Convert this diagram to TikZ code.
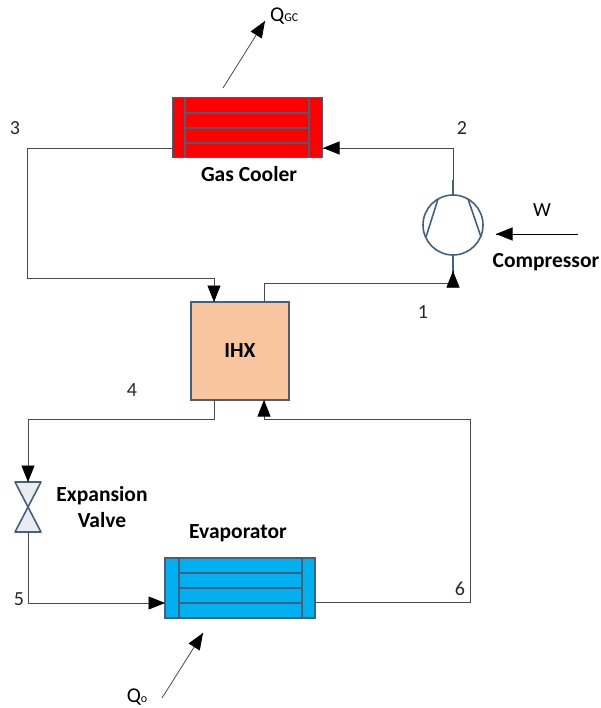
\documentclass[tikz,border=0pt]{standalone}
\usepackage{fontspec}
\setmainfont{Carlito}
\usetikzlibrary{arrows.meta}
\usetikzlibrary{decorations.markings}
\usetikzlibrary{positioning}
\definecolor{edgeblue}{HTML}{44607F}
\definecolor{pipegray}{HTML}{4A4A4A}
\definecolor{coolerred}{HTML}{FF0000}
\definecolor{evapblue}{HTML}{00B0F0}
\definecolor{ihxpeach}{HTML}{F8C59F}
\definecolor{valvegray}{HTML}{E9ECF0}
\tikzset{->/.style = {decoration={markings,
                                  mark=at position 1 with {\arrow[black]{Triangle[length=16.5pt,width=13pt]}}},
                      postaction={decorate}}}
\tikzset{pipe/.style = {draw=pipegray, line width = 0.9pt}}
\tikzset{heat/.style = {draw=pipegray, line width = 0.8pt}}
\tikzset{hxbox/.style = {draw=edgeblue, line width = 1.8pt, rectangle, inner sep = 0, minimum height = 60, minimum width = 150}}
\tikzset{hxline/.style = {draw=edgeblue, line width = 1.8pt}}
\tikzset{partline/.style = {draw=edgeblue, line width = 1.6pt, line join = round}}
\tikzset{num/.style = {font=\fontsize{20}{20}\selectfont, text=black!85}}
\tikzset{partname/.style = {font=\fontsize{21.5}{26}\selectfont\bfseries, align=center}}
\begin{document}
\begin{tikzpicture}[x=1pt, y=-1pt]
      \useasboundingbox (0, 0) rectangle (600, 708);
      % exchangers and IHX
      \node [hxbox, fill=coolerred] (cooler) at (247.5, 127.5) {};
      \node [hxbox, fill=evapblue] (evap) at (240, 588) {};
      \node [draw=edgeblue, line width=1.2pt, fill=ihxpeach, inner sep=0, minimum width=98, minimum height=98] (ihx) at (240, 351) {\fontsize{21.5}{22}\selectfont\bfseries IHX};
      \foreach \y in {113, 128, 143} \draw [hxline] (185, \y) -- (309, \y);
      \foreach \x in {185, 309} \draw [hxline] (\x, 97.5) -- (\x, 157.5);
      \foreach \y in {573, 588, 603} \draw [hxline] (179, \y) -- (302, \y);
      \foreach \x in {179, 302} \draw [hxline] (\x, 558) -- (\x, 618);
      % compressor
      \node [circle, draw=edgeblue, line width=1.6pt, inner sep=0, minimum size=60] (comp) at (453, 225) {};
      \draw [partline] (438, 199) -- (426, 237);
      \draw [partline] (468, 199) -- (481, 237);
      % valve
      \coordinate (valvetop) at (28, 482);
      \coordinate (valvemid) at (28, 507);
      \coordinate (valvebot) at (28, 532);
      \draw [partline, fill=valvegray] (15, 482) -- (41, 482) -- (valvemid) -- (15, 532) -- (41, 532) -- (valvemid) -- cycle;
      % bends of the pipes
      \coordinate (gcout) at (172, 148);
      \coordinate (gcin) at (323, 148);
      \coordinate (three) at (27, 148);
      \coordinate (threeb) at (27, 278);
      \coordinate (ihxa) at (214, 278);
      \coordinate (ihxain) at (214, 302);
      \coordinate (ihxaout) at (214, 400);
      \coordinate (four) at (214, 419);
      \coordinate (fourb) at (28, 419);
      \coordinate (ihxbout) at (264, 302);
      \coordinate (ihxbin) at (264, 400);
      \coordinate (one) at (264, 283);
      \coordinate (oneb) at (453, 283);
      \coordinate (two) at (453, 148);
      \coordinate (twob) at (453, 180);
      \coordinate (compbase) at (453, 287);
      \coordinate (compin) at (453, 271);
      \coordinate (five) at (28, 603);
      \coordinate (evapin) at (165, 603);
      \coordinate (evapout) at (315, 602);
      \coordinate (six) at (470, 602);
      \coordinate (sixb) at (470, 419);
      \coordinate (sixc) at (264, 419);
      \draw [pipe, ->] (gcout) -- (three) -- (threeb) -- (ihxa) -- (ihxain);
      \draw [pipe, ->] (ihxaout) -- (four) -- (fourb) -- (valvetop);
      \draw [pipe, ->] (valvebot) -- (five) -- (evapin);
      \draw [pipe, ->] (evapout) -- (six) -- (sixb) -- (sixc) -- (ihxbin);
      \draw [pipe] (ihxbout) -- (one) -- (oneb);
      \draw [pipe, ->] (twob) -- (two) -- (gcin);
      \draw [partline] (twob) -- (comp.north);
      \draw [partline] (comp.south) -- (oneb);
      \draw [->] (compbase) -- (compin);
      % work and heat
      \node [font=\fontsize{20}{20}\selectfont] (work) at (542, 210) {W};
      \coordinate (wstart) at (578, 234);
      \coordinate (wend) at (496, 234);
      \draw [line width=0.9pt, ->] (wstart) -- (wend);
      \node [anchor=west, inner sep=0] (qgc) at (270, 16) {\fontsize{21}{21}\selectfont Q\fontsize{12}{12}\selectfont GC};
      \coordinate (gcstart) at (223, 88);
      \coordinate (gcend) at (265, 21);
      \draw [heat, ->] (gcstart) -- (gcend);
      \node [inner sep=0] (qo) at (137, 697) {\fontsize{21}{21}\selectfont Q\fontsize{12}{12}\selectfont o};
      \coordinate (ostart) at (162, 698);
      \coordinate (oend) at (203, 633);
      \draw [heat, ->] (ostart) -- (oend);
      % labels
      \node [partname] (gclabel) at (249, 174) {Gas Cooler};
      \node [partname] (complabel) at (546, 262) {Compressor};
      \node [partname] (valvelabel) at (102, 507) {Expansion\\Valve};
      \node [partname] (evaplabel) at (238, 533) {Evaporator};
      \node [num] (n3) at (15, 128) {3};
      \node [num] (n2) at (462, 128) {2};
      \node [num] (n1) at (423, 312) {1};
      \node [num] (n4) at (132, 390) {4};
      \node [num] (n5) at (19, 599) {5};
      \node [num] (n6) at (460, 589) {6};
    \end{tikzpicture}
\end{document}
